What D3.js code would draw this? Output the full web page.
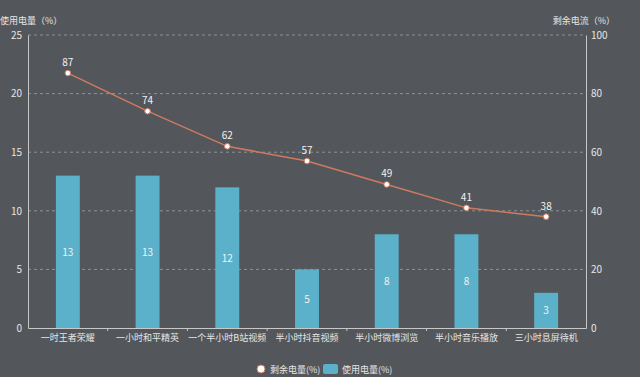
<!DOCTYPE html>
<html>
<head>
<meta charset="utf-8">
<script src="https://cdn.jsdelivr.net/npm/d3@7"></script>
<style>
  body { margin: 0; background: #53575b; }
  text { font-family: "Noto Sans CJK SC", "Noto Sans", sans-serif; }
</style>
</head>
<body>
<script>
const categories = ['一时王者荣耀', '一小时和平精英', '一个半小时B站视频', '半小时抖音视频', '半小时微博浏览', '半小时音乐播放', '三小时息屏待机'];
const usedPower = [13, 13, 12, 5, 8, 8, 3];
const remainPower = [87, 74, 62, 57, 49, 41, 38];
const leftTicks = [0, 5, 10, 15, 20, 25];
const rightTicks = [0, 20, 40, 60, 80, 100];

const width = 640, height = 377;
const margin = { left: 28, top: 35, right: 54, bottom: 49 };
const innerWidth = width - margin.left - margin.right;
const innerHeight = height - margin.top - margin.bottom;

const svg = d3.select('body').append('svg')
  .attr('width', width)
  .attr('height', height)
  .style('background', '#53575b');

const g = svg.append('g').attr('transform', `translate(${margin.left},${margin.top})`);

const x = d3.scaleBand().domain(categories).range([0, innerWidth])
  .paddingInner(0.7).paddingOuter(0.35);
const yLeft = d3.scaleLinear().domain([0, 25]).range([innerHeight, 0]);
const yRight = d3.scaleLinear().domain([0, 100]).range([innerHeight, 0]);

const axisColor = '#c8c8c8';
const textColor = '#e6e6e6';

// grid lines
g.append('g').selectAll('line')
  .data(leftTicks.filter(d => d > 0))
  .join('line')
  .attr('x1', 0).attr('x2', innerWidth)
  .attr('y1', d => yLeft(d)).attr('y2', d => yLeft(d))
  .attr('stroke', '#8e9296')
  .attr('stroke-dasharray', '3,3');

// left axis
const leftAxis = g.append('g').call(d3.axisLeft(yLeft).tickValues(leftTicks).tickSize(0).tickPadding(6));
leftAxis.select('.domain').attr('stroke', axisColor);
leftAxis.selectAll('text').attr('fill', textColor).style('font-size', '10px');

// right axis
const rightAxis = g.append('g').attr('transform', `translate(${innerWidth},0)`)
  .call(d3.axisRight(yRight).tickValues(rightTicks).tickSize(0).tickPadding(5));
rightAxis.select('.domain').attr('stroke', axisColor);
rightAxis.selectAll('text').attr('fill', textColor).style('font-size', '10px');

// x axis
const xAxis = g.append('g').attr('transform', `translate(0,${innerHeight})`)
  .call(d3.axisBottom(x).tickSize(0).tickPadding(7));
xAxis.select('.domain').attr('stroke', axisColor);
xAxis.selectAll('text').attr('fill', textColor).style('font-size', '9px');

// small marks between categories
g.append('g').selectAll('line')
  .data(categories.slice(1))
  .join('line')
  .attr('x1', d => x(d) - x.step() * x.paddingInner() / 2)
  .attr('x2', d => x(d) - x.step() * x.paddingInner() / 2)
  .attr('y1', innerHeight).attr('y2', innerHeight + 3)
  .attr('stroke', axisColor);

// bars
g.append('g').selectAll('rect')
  .data(usedPower)
  .join('rect')
  .attr('x', (d, i) => x(categories[i]))
  .attr('width', x.bandwidth())
  .attr('y', d => yLeft(d))
  .attr('height', d => innerHeight - yLeft(d))
  .attr('fill', '#5bb1ca');

g.append('g').selectAll('text')
  .data(usedPower)
  .join('text')
  .attr('x', (d, i) => x(categories[i]) + x.bandwidth() / 2)
  .attr('y', d => yLeft(d / 2) + 4)
  .attr('text-anchor', 'middle')
  .attr('fill', '#f2f2f2')
  .style('font-size', '10px')
  .text(d => d);

// line
const cx = i => x(categories[i]) + x.bandwidth() / 2;
const line = d3.line().x((d, i) => cx(i)).y(d => yRight(d));
g.append('path')
  .datum(remainPower)
  .attr('d', line)
  .attr('fill', 'none')
  .attr('stroke', '#cf7a5e')
  .attr('stroke-width', 1.5);

g.append('g').selectAll('circle')
  .data(remainPower)
  .join('circle')
  .attr('cx', (d, i) => cx(i))
  .attr('cy', d => yRight(d))
  .attr('r', 2.8)
  .attr('fill', '#ffffff')
  .attr('stroke', '#cf7a5e')
  .attr('stroke-width', 1);

g.append('g').selectAll('text')
  .data(remainPower)
  .join('text')
  .attr('x', (d, i) => cx(i))
  .attr('y', d => yRight(d) - 7)
  .attr('text-anchor', 'middle')
  .attr('fill', '#f2f2f2')
  .style('font-size', '10px')
  .text(d => d);

// axis titles
svg.append('text')
  .attr('x', 0).attr('y', 24)
  .attr('fill', textColor)
  .style('font-size', '9px')
  .text('使用电量（%）');

svg.append('text')
  .attr('x', 615).attr('y', 24)
  .attr('text-anchor', 'end')
  .attr('fill', textColor)
  .style('font-size', '9px')
  .text('剩余电流（%）');

// legend
const legend = svg.append('g').attr('transform', 'translate(261,369)');
legend.append('circle').attr('cx', 0).attr('cy', 0).attr('r', 4)
  .attr('fill', '#ffffff').attr('stroke', '#cf7a5e');
legend.append('text').attr('x', 9).attr('y', 3.5)
  .attr('fill', textColor).style('font-size', '9px').text('剩余电量(%)');
legend.append('rect').attr('x', 62).attr('y', -5).attr('width', 15).attr('height', 10)
  .attr('rx', 2).attr('fill', '#5bb1ca');
legend.append('text').attr('x', 81).attr('y', 3.5)
  .attr('fill', textColor).style('font-size', '9px').text('使用电量(%)');
</script>
</body>
</html>
